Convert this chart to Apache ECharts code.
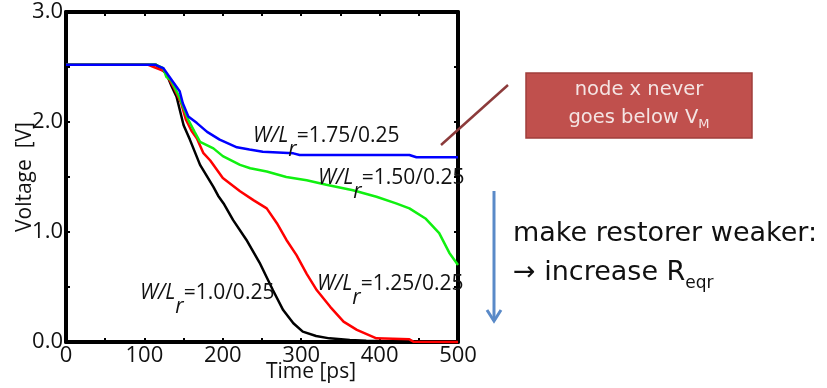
<!DOCTYPE html>
<html>
<head>
<meta charset="utf-8">
<script src="https://cdn.jsdelivr.net/npm/echarts@6/dist/echarts.min.js"></script>
<style>
html,body{margin:0;padding:0;background:#fff;}
#chart{width:827px;height:388px;}
</style>
</head>
<body>
<div id="chart"></div>
<script>
// ---- data ----
const xTicks = [0, 100, 200, 300, 400, 500];
const yTicks = [0.0, 1.0, 2.0, 3.0];

const blackT = [0, 110, 115, 128, 135, 141, 150, 158, 171, 188, 194, 201, 213, 230, 247, 264, 277, 290, 302, 319, 336, 362, 383, 420, 500];
const blackV = [2.52, 2.52, 2.52, 2.44, 2.32, 2.23, 1.97, 1.84, 1.61, 1.41, 1.33, 1.26, 1.11, 0.93, 0.72, 0.47, 0.29, 0.17, 0.094, 0.055, 0.033, 0.018, 0.012, 0.005, 0.0];

const redT = [0, 105, 112, 126, 137, 147, 153, 160, 167, 175, 184, 200, 222, 239, 256, 269, 281, 294, 307, 320, 337, 354, 371, 396, 438, 443, 500];
const redV = [2.52, 2.52, 2.50, 2.46, 2.32, 2.17, 2.02, 1.92, 1.85, 1.72, 1.65, 1.49, 1.37, 1.29, 1.215, 1.08, 0.93, 0.79, 0.62, 0.47, 0.32, 0.185, 0.11, 0.033, 0.024, 0.003, 0.0];

const greenT = [0, 115, 124, 128, 134, 145, 152, 156, 164, 171, 188, 200, 222, 235, 256, 281, 307, 332, 366, 396, 421, 438, 459, 476, 489, 500];
const greenV = [2.52, 2.52, 2.49, 2.41, 2.38, 2.22, 2.09, 2.02, 1.91, 1.82, 1.76, 1.69, 1.61, 1.58, 1.55, 1.50, 1.47, 1.43, 1.38, 1.32, 1.26, 1.215, 1.12, 0.99, 0.81, 0.70];

const blueT = [0, 114, 124, 135, 145, 149, 156, 167, 180, 196, 218, 234, 251, 290, 298, 438, 447, 500];
const blueV = [2.52, 2.52, 2.49, 2.38, 2.28, 2.17, 2.05, 1.99, 1.91, 1.84, 1.77, 1.75, 1.73, 1.715, 1.70, 1.70, 1.68, 1.68];

const seriesNames = ['W/L=1.0/0.25', 'W/L=1.25/0.25', 'W/L=1.50/0.25', 'W/L=1.75/0.25'];
const seriesColors = ['#000000', '#ff0000', '#10f010', '#0000ff'];
const labelRatios = ['=1.0/0.25', '=1.25/0.25', '=1.50/0.25', '=1.75/0.25'];

function pairs(t, v) { return t.map((x, i) => [x, v[i]]); }
const allData = [pairs(blackT, blackV), pairs(redT, redV), pairs(greenT, greenV), pairs(blueT, blueV)];

const chart = echarts.init(document.getElementById('chart'), null, {renderer: 'canvas'});
const FONT = 'Open Sans';
const TXT = 'DejaVu Sans';

const axisLine = {show: true, onZero: false, lineStyle: {color: '#000', width: 4}};
const tick = {show: true, inside: true, length: 4, lineStyle: {color: '#000', width: 2}};
const minor = {show: true, splitNumber: 2, length: 4, lineStyle: {color: '#000', width: 2}};

function plotLabel(x, y, ratio) {
  return {
    type: 'text', z: 50,
    style: {
      x: x, y: y, verticalAlign: 'top',
      text: '{a|W/L}{r|r}{n|' + ratio + '}',
      rich: {
        a: {fontFamily: FONT, fontStyle: 'italic', fontSize: 21, lineHeight: 26, verticalAlign: 'top', fill: '#111'},
        r: {fontFamily: FONT, fontStyle: 'italic', fontSize: 21, lineHeight: 26, padding: [14, 0, 0, 0], verticalAlign: 'top', fill: '#111'},
        n: {fontFamily: FONT, fontSize: 21, lineHeight: 26, verticalAlign: 'top', fill: '#111'}
      }
    }
  };
}

const option = {
  animation: false,
  backgroundColor: '#fff',
  grid: {left: 66, right: 369, top: 12, bottom: 46, show: false},
  xAxis: [{
    type: 'value', min: 0, max: 500, interval: 100, position: 'bottom',
    axisLine: axisLine, axisTick: tick, minorTick: minor, splitLine: {show: false},
    axisLabel: {fontFamily: FONT, fontSize: 22, color: '#111', margin: 3},
    name: 'Time [ps]', nameLocation: 'middle', nameGap: 20, nameMoveOverlap: false,
    nameTextStyle: {fontFamily: FONT, fontSize: 21, color: '#111', padding: [0, 0, 0, 98]}
  }, {
    type: 'value', min: 0, max: 500, interval: 100, position: 'top',
    axisLine: axisLine, axisTick: tick, minorTick: minor, splitLine: {show: false},
    axisLabel: {show: false}
  }],
  yAxis: [{
    type: 'value', min: 0, max: 3, interval: 1, position: 'left',
    axisLine: axisLine, axisTick: tick, minorTick: minor, splitLine: {show: false},
    axisLabel: {fontFamily: FONT, fontSize: 22, color: '#111', margin: 3, formatter: v => v.toFixed(1)},
    name: 'Voltage  [V]', nameLocation: 'middle', nameGap: 30, nameRotate: 90, nameMoveOverlap: false,
    nameTextStyle: {fontFamily: FONT, fontSize: 21, color: '#111'}
  }, {
    type: 'value', min: 0, max: 3, interval: 1, position: 'right',
    axisLine: axisLine, axisTick: tick, minorTick: minor, splitLine: {show: false},
    axisLabel: {show: false}
  }],
  series: allData.map((d, i) => ({
    type: 'line', name: seriesNames[i], data: d, showSymbol: false, symbol: 'none', clip: false,
    lineStyle: {color: seriesColors[i], width: 2.5}, itemStyle: {color: seriesColors[i]}, z: 3 + i
  })),
  graphic: [
    plotLabel(140, 283, labelRatios[0]),
    plotLabel(317, 274, labelRatios[1]),
    plotLabel(318, 168, labelRatios[2]),
    plotLabel(253, 126, labelRatios[3]),
    // annotation callout
    {type: 'line', z: 60, shape: {x1: 441, y1: 145, x2: 508, y2: 85}, style: {stroke: '#8c3b3b', lineWidth: 2.5}},
    {type: 'rect', z: 60, shape: {x: 526, y: 73, width: 226, height: 65}, style: {fill: '#c0504d', stroke: '#a03e3b', lineWidth: 1.5}},
    {type: 'text', z: 61, style: {x: 639, y: 80, text: 'node x never', align: 'center', verticalAlign: 'top', fontFamily: TXT, fontSize: 19.5, fill: '#f4e4e3'}},
    {type: 'text', z: 61, style: {x: 639, y: 108, text: '{n|goes below V}{s|M}', align: 'center', verticalAlign: 'top',
      rich: {n: {fontFamily: TXT, fontSize: 19.5, lineHeight: 26, verticalAlign: 'top', fill: '#f4e4e3'},
             s: {fontFamily: TXT, fontSize: 13, lineHeight: 20, padding: [10, 0, 0, 0], verticalAlign: 'top', fill: '#f4e4e3'}}}},
    // blue arrow
    {type: 'polyline', z: 60, shape: {points: [[494, 191], [494, 321]]}, style: {stroke: '#5a8ac8', lineWidth: 3}},
    {type: 'polyline', z: 60, shape: {points: [[487, 310], [494, 321], [501, 310]]}, style: {stroke: '#5a8ac8', lineWidth: 3, fill: null}},
    // right text
    {type: 'text', z: 61, style: {x: 513, y: 220, text: 'make restorer weaker:', verticalAlign: 'top', fontFamily: TXT, fontSize: 27, fill: '#111'}},
    {type: 'text', z: 61, style: {x: 513, y: 259, text: '{n|→ increase R}{s|eqr}', verticalAlign: 'top',
      rich: {n: {fontFamily: TXT, fontSize: 27, lineHeight: 34, verticalAlign: 'top', fill: '#111'},
             s: {fontFamily: TXT, fontSize: 17, lineHeight: 24, padding: [16, 0, 0, 0], verticalAlign: 'top', fill: '#111'}}}}
  ]
};
chart.setOption(option);
</script>
</body>
</html>
